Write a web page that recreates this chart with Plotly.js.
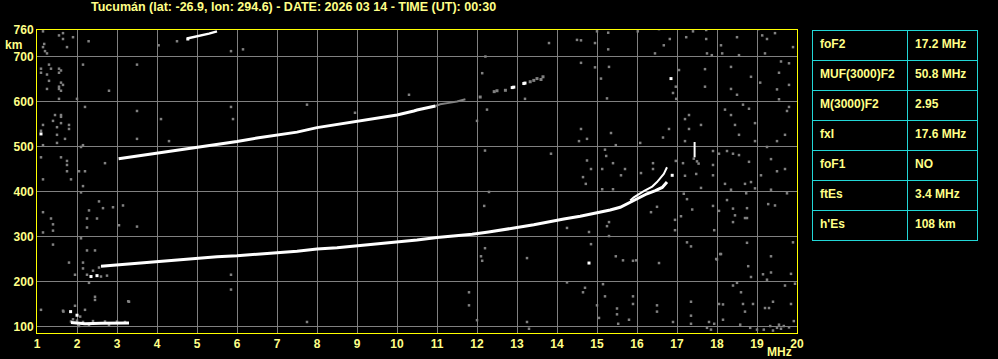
<!DOCTYPE html>
<html>
<head>
<meta charset="utf-8">
<script src="https://cdn.plot.ly/plotly-3.0.1.min.js"></script>
<style>html,body{margin:0;padding:0;background:#000;}#chart{width:998px;height:359px;}</style>
</head>
<body>
<div id="chart"></div>
<script>
// ---- data ----
const chartTitle = 'Tucumán (lat: -26.9, lon: 294.6) - DATE: 2026 03 14 - TIME (UT): 00:30';
const freqTicks = [1,2,3,4,5,6,7,8,9,10,11,12,13,14,15,16,17,18,19,20];
const heightTicks = [100,200,300,400,500,600,700,760];

// first-hop F trace (ordinary)
const fF1 = [2.6,3.0,3.5,4.0,4.5,5.0,5.5,6.0,6.5,7.0,7.5,8.0,8.5,9.0,9.5,10.0,10.42,10.5,11.0,11.5,11.88,12.29,12.67,13.0,13.42,13.83,14.17,14.58,15.0,15.33,15.58,15.83,16.04,16.25,16.46,16.63,16.75];
const hF1 = [235,238,241,245,249,253,256,258,262,265,268,273,276,280,284,288,293,293,299,303,306,311,317,321,327,335,340,346,353,360,366,377,387,396,403,410,422];
// upper branch near critical frequency
const fF1x = [15.83,15.92,16.17,16.38,16.5,16.67,16.75];
const hF1x = [381,388,402,412,422,440,455];
// second-hop F trace
const fF2 = [3.04,3.5,4.0,4.5,5.0,5.5,6.0,6.5,7.0,7.5,8.0,8.5,9.0,9.5,10.0,10.42,10.5,10.96];
const hF2 = [474,480,486,492,499,506,512,520,527,533,543,550,557,565,571,580,582,591];
const fF2faint = [10.96,11.08,11.3,11.5,11.71];
const hF2faint = [591,595,598,601,606];
const fF2segGray = [12.08,12.43,12.5,12.71,13.33,13.42,13.5,13.6,13.65];
const hF2segGray = [611,623,625,626,645,648,652,650,656];
const fF2segWhite = [12.88,12.92,13.17,13.2];
const hF2segWhite = [632,633,641,642];
// third-hop F trace
const fF3 = [4.75,5.08,5.3,5.5];
const hF3 = [741,747,752,757];
// sporadic E trace
const fEs = [1.85,2.2,2.6,3.0,3.3];
const hEs = [110,107,108,108,109];
// isolated strong echoes
const fEcho = [1.1,2.5,2.35,1.84,2.0,16.85,14.8,16.88,4.77];
const hEcho = [529,214,212,134,126,652,242,437,740];
const fSpike = [17.44,17.44];
const hSpike = [477,511];
// weak echoes / noise
const fNoise = [1.15,1.55,1.65,1.65,1.9,1.18,1.15,1.2,1.25,1.75,2.29,4.04,4.5,5.85,6.15,
2.15,3.5,1.3,1.1,1.35,1.55,1.6,1.1,1.25,1.55,1.3,1.6,1.65,1.55,1.55,1.25,1.6,2.8,1.55,2.0,10.3,
2.2,3.5,5.85,7.75,1.45,1.6,1.6,1.4,1.15,1.5,1.8,1.8,1.6,4.1,5.9,8.95,1.1,1.5,1.7,1.5,3.5,4.3,1.15,2.15,2.1,
1.1,1.6,1.75,1.75,1.75,2.05,2.2,1.15,1.85,2.15,2.7,2.1,
2.55,2.65,2.9,3.15,2.3,1.15,1.35,2.25,2.5,1.4,2.25,3.05,3.5,1.15,1.4,2.1,
1.4,2.25,2.45,1.8,2.15,2.15,1.95,2.25,2.4,2.6,2.75,2.3,5.85,5.85,
2.45,2.45,3.3,1.1,1.65,1.95,2.2,7.75,1.66,2.08,3.28,
1.85,2.0,2.15,2.4,2.7,3.0,3.2,2.3,2.8,1.9,2.05,2.55,
12.21,12.13,13.8,14.5,14.6,15.0,15.28,14.95,15.28,16.02,16.55,16.82,16.67,16.45,17.23,17.4,17.73,17.73,17.75,18.1,18.5,19.03,19.13,19.25,19.45,19.9,17.87,18.13,18.55,19.2,19.6,19.55,19.8,
14.6,14.95,15.3,15.1,17.05,16.97,17.7,17.7,18.85,18.35,18.5,19.08,19.5,19.8,18.35,19.55,16.9,16.98,15.25,13.2,12.25,12.0,
14.6,14.75,14.55,15.35,15.47,16.08,16.65,16.8,17.2,17.2,17.3,17.6,17.3,18.2,18.35,18.65,18.8,18.95,18.55,18.95,18.45,19.7,19.5,19.8,19.75,19.25,19.35,19.5,19.7,19.1,
12.2,13.85,15.2,15.23,14.75,14.85,15.13,15.4,15.7,15.6,16.1,16.4,16.4,14.72,14.65,15.13,15.4,12.3,16.97,17.15,17.2,17.48,17.6,17.9,17.9,18.05,18.25,18.4,18.55,18.8,17.9,18.2,18.35,18.7,18.85,18.73,18.95,19.35,19.75,19.45,19.28,
18.25,17.9,18.05,18.4,18.75,18.75,18.4,18.45,17.17,17.25,17.38,17.1,16.95,16.95,17.93,18.7,12.18,14.25,14.8,15.3,15.25,15.3,16.35,16.5,
17.25,17.35,18.75,19.35,19.9,18.08,17.98,18.78,18.85,19.15,19.35,19.85,19.25,19.7,19.95,19.85,19.4,19.2,19.3,18.9,18.6,18.65,18.4,18.5,18.7,18.15,18.15,18.05,17.93,17.8,17.35,17.35,17.35,16.9,
16.5,16.5,15.8,15.9,15.9,15.5,15.5,15.53,15.2,15.15,15.0,15.05,14.7,14.65,14.25,13.25,11.8,11.8,12.1,12.13,12.2,13.25,14.85,15.47,15.65,15.9,15.98,16.55,18.0,18.1,
19.5,19.67,19.17,19.33,19.0,18.58,19.92,19.55,18.83,17.75,17.85,19.6,19.8,19.4,12.0,13.3,17.42,17.54,17.5];
const hNoise = [757,748,753,740,744,729,722,713,708,722,735,726,735,713,717,
683,683,683,674,674,674,670,665,661,665,647,643,638,634,629,629,625,625,607,607,616,
589,580,589,594,571,571,567,558,549,544,549,540,553,562,562,576,536,527,518,509,518,513,504,504,500,
477,477,469,460,446,446,446,428,428,413,464,399,
379,364,366,370,359,355,341,341,341,328,321,326,323,310,314,297,
283,270,270,243,243,230,216,216,225,212,214,198,216,183,
167,160,156,138,136,147,138,111,134,123,157,
112,114,111,113,112,112,111,104,104,117,102,232,
701,664,731,738,737,757,754,731,717,757,762,740,726,708,744,757,760,740,708,726,744,762,748,740,753,722,704,708,704,708,690,665,686,
687,677,678,652,671,634,673,634,656,678,616,643,628,638,629,606,620,607,608,607,583,558,
540,518,513,531,504,509,521,540,513,562,571,549,540,583,571,594,585,553,527,513,549,527,513,589,580,500,473,446,451,437,
492,485,494,480,470,451,451,464,451,437,442,464,451,418,433,406,406,400,469,464,436,440,409,491,460,485,491,485,482,467,437,418,405,418,422,397,408,405,397,370,373,
382,369,358,363,364,342,333,348,396,384,361,346,338,315,315,342,369,320,311,333,324,302,355,367,
288,279,287,257,288,262,251,235,211,217,221,218,205,192,196,151,156,142,142,151,177,151,192,198,134,150,116,151,107,111,156,125,107,111,
148,134,116,168,151,141,128,107,168,195,148,120,187,177,199,111,177,148,257,247,275,253,284,257,248,247,248,242,250,262,
98,102,94,102,94,105,113,105,98,98,94,96,99,92,115,96,474,463,468];

// ionospheric parameters table
const paramNames = ['foF2','MUF(3000)F2','M(3000)F2','fxI','foF1','ftEs',"h'Es"];
const paramValues = ['17.2 MHz','50.8 MHz','2.95','17.6 MHz','NO','3.4 MHz','108 km'];

// ---- styling ----
const W = 998, H = 359;
const yellow = '#ffff88';
const fontFam = '"Liberation Sans", Arial, sans-serif';
const baseFont = {family: fontFam, size: 12, color: yellow, weight: 'bold'};
const titleFont = {family: fontFam, size: 12.5, color: yellow, weight: 'bold'};
const gray = '#808080';
const cyan = '#22d6d6';
const nb = s => s.replace(/ /g, '\u00a0');

function line(x, y, color, width, name) {
  return {type: 'scatter', mode: 'lines', x: x, y: y, name: name,
    line: {color: color, width: width}, hoverinfo: 'skip', showlegend: false};
}
function pts(x, y, color, size, name) {
  return {type: 'scatter', mode: 'markers', x: x, y: y, name: name,
    marker: {color: color, size: size, symbol: 'square', line: {width: 0}}, hoverinfo: 'skip', showlegend: false};
}

const traces = [
  pts(fNoise, hNoise, gray, 2.5, 'noise'),
  line(fF2faint, hF2faint, gray, 2, 'F2 faint'),
  pts(fF2segGray, hF2segGray, gray, 3, 'F2 seg gray'),
  line(fF1, hF1, '#ffffff', 3, 'F'),
  line(fF1x, hF1x, '#ffffff', 2, 'F upper'),
  line(fF2, hF2, '#ffffff', 3, '2F'),
  pts(fF2segWhite, hF2segWhite, '#ffffff', 3, '2F seg'),
  line(fF3, hF3, '#ffffff', 2.5, '3F'),
  line(fEs, hEs, '#ffffff', 3, 'Es'),
  pts(fEcho, hEcho, '#ffffff', 3, 'echo'),
  line(fSpike, hSpike, '#ffffff', 2, 'spike'),
  {
    type: 'table',
    domain: {x: [812/W, 978/W], y: [1 - 243/H, 1 - 30.5/H]},
    columnwidth: [95, 70],
    header: {
      values: [nb(paramNames[0]), nb(paramValues[0])],
      align: 'left', height: 30,
      line: {color: cyan, width: 1},
      fill: {color: '#000000'},
      font: baseFont
    },
    cells: {
      values: [paramNames.slice(1).map(nb), paramValues.slice(1).map(nb)],
      align: 'left', height: 30,
      line: {color: cyan, width: 1},
      fill: {color: '#000000'},
      font: baseFont
    }
  }
];

const layout = {
  width: W, height: H,
  margin: {l: 0, r: 0, t: 0, b: 0},
  paper_bgcolor: '#000000',
  plot_bgcolor: '#000000',
  showlegend: false,
  title: {
    text: chartTitle,
    font: titleFont,
    xref: 'paper', x: 91/W, xanchor: 'left',
    yref: 'paper', y: 1 - 7/H, yanchor: 'middle'
  },
  xaxis: {
    domain: [37/W, 797/W],
    range: [1, 20],
    tickmode: 'array', tickvals: freqTicks, ticktext: freqTicks.map(String),
    showgrid: true, gridcolor: gray, gridwidth: 1,
    zeroline: false,
    showline: true, linecolor: '#ffff00', linewidth: 1, mirror: true,
    ticks: '', tickfont: baseFont
  },
  yaxis: {
    domain: [1 - 333/H, 1 - 30/H],
    range: [86.5, 760],
    tickmode: 'array', tickvals: heightTicks, ticktext: heightTicks.map(String),
    showgrid: true, gridcolor: gray, gridwidth: 1,
    zeroline: false,
    showline: true, linecolor: '#ffff00', linewidth: 1, mirror: true,
    ticks: '', tickfont: baseFont
  },
  annotations: [
    {text: 'km', xref: 'paper', yref: 'paper', x: 13.5/W, y: 1 - 45.5/H,
     xanchor: 'center', yanchor: 'middle', showarrow: false, font: baseFont},
    {text: 'MHz', xref: 'paper', yref: 'paper', x: 779.5/W, y: 1 - 351.5/H,
     xanchor: 'center', yanchor: 'middle', showarrow: false, font: baseFont}
  ]
};

Plotly.newPlot('chart', traces, layout, {staticPlot: true, displayModeBar: false});
</script>
</body>
</html>
